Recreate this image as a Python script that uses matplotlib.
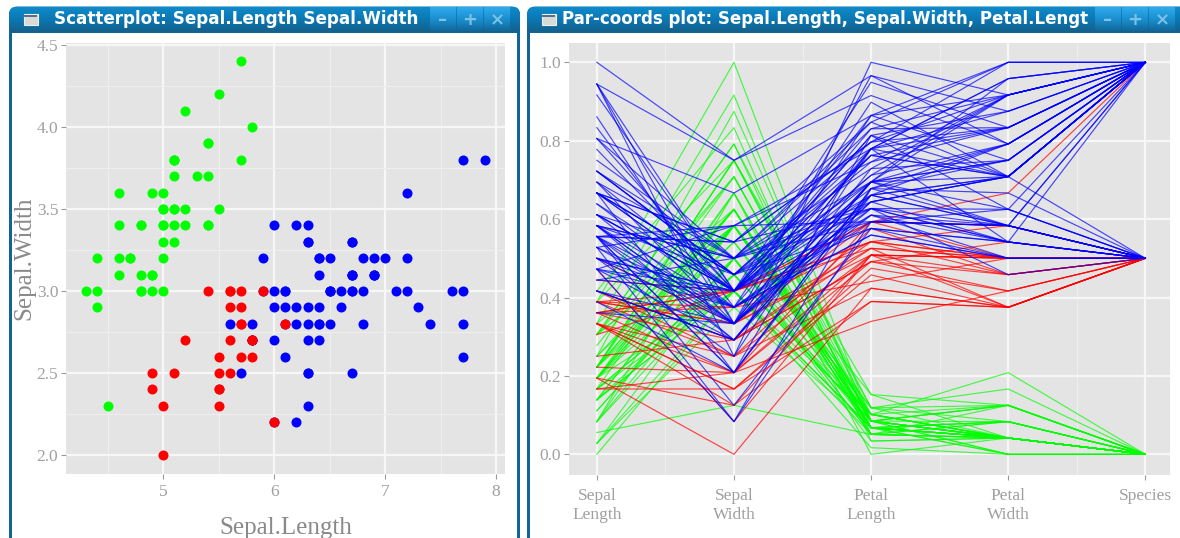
import numpy as np
import matplotlib
matplotlib.use("Agg")
import matplotlib.pyplot as plt
from matplotlib.patches import FancyBboxPatch, Rectangle

sepal_length = [5.1,4.9,4.7,4.6,5.0,5.4,4.6,5.0,4.4,4.9,5.4,4.8,4.8,4.3,5.8,5.7,5.4,5.1,5.7,5.1,5.4,5.1,4.6,5.1,4.8,5.0,5.0,5.2,5.2,4.7,4.8,5.4,5.2,5.5,4.9,5.0,5.5,4.9,4.4,5.1,5.0,4.5,4.4,5.0,5.1,4.8,5.1,4.6,5.3,5.0,
                7.0,6.4,6.9,5.5,6.5,5.7,6.3,4.9,6.6,5.2,5.0,5.9,6.0,6.1,5.6,6.7,5.6,5.8,6.2,5.6,5.9,6.1,6.3,6.1,6.4,6.6,6.8,6.7,6.0,5.7,5.5,5.5,5.8,6.0,5.4,6.0,6.7,6.3,5.6,5.5,5.5,6.1,5.8,5.0,5.6,5.7,5.7,6.2,5.1,5.7,
                6.3,5.8,7.1,6.3,6.5,7.6,4.9,7.3,6.7,7.2,6.5,6.4,6.8,5.7,5.8,6.4,6.5,7.7,7.7,6.0,6.9,5.6,7.7,6.3,6.7,7.2,6.2,6.1,6.4,7.2,7.4,7.9,6.4,6.3,6.1,7.7,6.3,6.4,6.0,6.9,6.7,6.9,5.8,6.8,6.7,6.7,6.3,6.5,6.2,5.9]
sepal_width = [3.5,3.0,3.2,3.1,3.6,3.9,3.4,3.4,2.9,3.1,3.7,3.4,3.0,3.0,4.0,4.4,3.9,3.5,3.8,3.8,3.4,3.7,3.6,3.3,3.4,3.0,3.4,3.5,3.4,3.2,3.1,3.4,4.1,4.2,3.1,3.2,3.5,3.6,3.0,3.4,3.5,2.3,3.2,3.5,3.8,3.0,3.8,3.2,3.7,3.3,
               3.2,3.2,3.1,2.3,2.8,2.8,3.3,2.4,2.9,2.7,2.0,3.0,2.2,2.9,2.9,3.1,3.0,2.7,2.2,2.5,3.2,2.8,2.5,2.8,2.9,3.0,2.8,3.0,2.9,2.6,2.4,2.4,2.7,2.7,3.0,3.4,3.1,2.3,3.0,2.5,2.6,3.0,2.6,2.3,2.7,3.0,2.9,2.9,2.5,2.8,
               3.3,2.7,3.0,2.9,3.0,3.0,2.5,2.9,2.5,3.6,3.2,2.7,3.0,2.5,2.8,3.2,3.0,3.8,2.6,2.2,3.2,2.8,2.8,2.7,3.3,3.2,2.8,3.0,2.8,3.0,2.8,3.8,2.8,2.8,2.6,3.0,3.4,3.1,3.0,3.1,3.1,3.1,2.7,3.2,3.3,3.0,2.5,3.0,3.4,3.0]
petal_length = [1.4,1.4,1.3,1.5,1.4,1.7,1.4,1.5,1.4,1.5,1.5,1.6,1.4,1.1,1.2,1.5,1.3,1.4,1.7,1.5,1.7,1.5,1.0,1.7,1.9,1.6,1.6,1.5,1.4,1.6,1.6,1.5,1.5,1.4,1.5,1.2,1.3,1.4,1.3,1.5,1.3,1.3,1.3,1.6,1.9,1.4,1.6,1.4,1.5,1.4,
                4.7,4.5,4.9,4.0,4.6,4.5,4.7,3.3,4.6,3.9,3.5,4.2,4.0,4.7,3.6,4.4,4.5,4.1,4.5,3.9,4.8,4.0,4.9,4.7,4.3,4.4,4.8,5.0,4.5,3.5,3.8,3.7,3.9,5.1,4.5,4.5,4.7,4.4,4.1,4.0,4.4,4.6,4.0,3.3,4.2,4.2,4.2,4.3,3.0,4.1,
                6.0,5.1,5.9,5.6,5.8,6.6,4.5,6.3,5.8,6.1,5.1,5.3,5.5,5.0,5.1,5.3,5.5,6.7,6.9,5.0,5.7,4.9,6.7,4.9,5.7,6.0,4.8,4.9,5.6,5.8,6.1,6.4,5.6,5.1,5.6,6.1,5.6,5.5,4.8,5.4,5.6,5.1,5.1,5.9,5.7,5.2,5.0,5.2,5.4,5.1]
petal_width = [0.2,0.2,0.2,0.2,0.2,0.4,0.3,0.2,0.2,0.1,0.2,0.2,0.1,0.1,0.2,0.4,0.4,0.3,0.3,0.3,0.2,0.4,0.2,0.5,0.2,0.2,0.4,0.2,0.2,0.2,0.2,0.4,0.1,0.2,0.2,0.2,0.2,0.1,0.2,0.2,0.3,0.3,0.2,0.6,0.4,0.3,0.2,0.2,0.2,0.2,
               1.4,1.5,1.5,1.3,1.5,1.3,1.6,1.0,1.3,1.4,1.0,1.5,1.0,1.4,1.3,1.4,1.5,1.0,1.5,1.1,1.8,1.3,1.5,1.2,1.3,1.4,1.4,1.7,1.5,1.0,1.1,1.0,1.2,1.6,1.5,1.6,1.5,1.3,1.3,1.3,1.2,1.4,1.2,1.0,1.3,1.2,1.3,1.3,1.1,1.3,
               2.5,1.9,2.1,1.8,2.2,2.1,1.7,1.8,1.8,2.5,2.0,1.9,2.1,2.0,2.4,2.3,1.8,2.2,2.3,1.5,2.3,2.0,2.0,1.8,2.1,1.8,1.8,1.8,2.1,1.6,1.9,2.0,2.2,1.5,1.4,2.3,2.4,1.8,1.8,2.1,2.4,2.3,1.9,2.3,2.5,2.3,1.9,2.0,2.3,1.8]
species = [0]*50 + [1]*50 + [2]*50
# colour group per flower: 0 green, 1 red, 2 blue
group = [0]*50 + [2,2,2,1,2,1,2,1,2,1,1,1,1,2,1,2,1,1,2,1,2,1,2,2,2,2,2,2,2,1,1,1,1,2,1,2,2,2,1,1,1,2,1,1,1,1,1,2,1,1] \
        + [2,2,2,2,2,2,1,2,2,2,2,2,2,2,2,2,2,2,2,2,2,2,2,2,2,2,2,2,2,2,2,2,2,2,2,2,2,2,2,2,2,2,2,2,2,2,2,2,2,2]
axis_names = ["Sepal\nLength", "Sepal\nWidth", "Petal\nLength", "Petal\nWidth", "Species"]
group_colors = {0: "#00ff00", 1: "#ff0000", 2: "#0000ff"}

GREY = "#a0a0a0"
SERIF = ["Liberation Serif", "DejaVu Serif"]
W, H = 1180, 538
fig = plt.figure(figsize=(W/100, H/100), dpi=100, facecolor="white")

def px_axes(l, t, r, b):
    return fig.add_axes([l/W, 1-b/H, (r-l)/W, (b-t)/H])

# window chrome
bg = fig.add_axes([0, 0, 1, 1], zorder=-1)
bg.set_xlim(0, W); bg.set_ylim(H, 0); bg.axis("off")
BORDER = "#0f6595"
grad = np.linspace(0, 1, 26)[:, None]
cmap = matplotlib.colors.LinearSegmentedColormap.from_list("t", ["#0f8ccb", "#0b78b4", "#14618c"])
btncmap = matplotlib.colors.LinearSegmentedColormap.from_list("b", ["#2eaaec", "#1b8fd0", "#11689a"])

def window(l, r, title, tx, size, bl):
    frame = FancyBboxPatch((l+8, 14.7), r-l-16, H+40, boxstyle="round,pad=8", fc=BORDER, ec="none")
    bg.add_patch(frame)
    im = bg.imshow(grad, extent=[l, r, 32.5, 6.5], cmap=cmap, aspect="auto", zorder=2)
    im.set_clip_path(frame)
    bg.add_patch(Rectangle((l+3, 32.5), r-l-6, H, fc="white", ec="none", zorder=3))
    bg.add_patch(Rectangle((l+14.5, 14), 14, 11, fc="#d8dad6", ec="#eef0ee", lw=0.8, zorder=4))
    bg.add_patch(Rectangle((l+15, 14.5), 13, 2, fc="#54708c", ec="none", zorder=4))
    bg.text(tx, 19.5, title, color="white", fontsize=size, fontweight="bold",
            family="DejaVu Sans", va="center", ha="left", zorder=5)
    for i, g in enumerate(["\u2013", "+", "\u00d7"]):
        x0 = bl + i*27
        bg.imshow(grad, extent=[x0, x0+26, 31.5, 7.5], cmap=btncmap, aspect="auto", zorder=4)
        bg.text(x0+13, 20, g, color="#7cc2e4", fontsize=13, fontweight="bold",
                ha="center", va="center", zorder=5)
    bg.set_xlim(0, W); bg.set_ylim(H, 0)

window(9, 520, "Scatterplot: Sepal.Length Sepal.Width", 54, 12.1, 430)
window(527, 1195, "Par-coords plot: Sepal.Length, Sepal.Width, Petal.Lengt", 562, 12, 1095)

def style(ax):
    ax.set_facecolor("#e4e4e4")
    for s in ax.spines.values():
        s.set_visible(False)
    ax.set_axisbelow(True)
    ax.grid(True, which="major", color="#f7f7f7", lw=1.6)
    ax.tick_params(which="major", length=3.5, width=0.8, color="#9a9a9a", labelcolor=GREY,
                   labelsize=12.5, pad=2)
    ax.tick_params(which="minor", length=0)
    for lab in ax.get_xticklabels() + ax.get_yticklabels():
        lab.set_family(SERIF)

# scatter
sl, sw, pl, pw = map(np.array, (sepal_length, sepal_width, petal_length, petal_width))
grp = np.array(group)
ax = px_axes(66, 43.3, 505, 474)
ax.set_xlim(4.123, 8.08); ax.set_ylim(1.884, 4.51)
ax.set_xticks([5, 6, 7, 8]); ax.set_yticks([2.0, 2.5, 3.0, 3.5, 4.0, 4.5])
ax.set_xticks([4.5, 5.5, 6.5, 7.5], minor=True); ax.set_yticks([2.25, 2.75, 3.25, 3.75, 4.25], minor=True)
ax.grid(True, which="minor", color="#eeeeee", lw=0.8)
for g in (2, 0, 1):
    m = grp == g
    ax.scatter(sl[m], sw[m], s=52, color=group_colors[g], linewidths=0, zorder=3)
style(ax)
ax.tick_params(axis="x", pad=4)
ax.set_xlabel("Sepal.Length", family=SERIF, color="#8a8a8a", fontsize=18, labelpad=12)
ax.set_ylabel("Sepal.Width", family=SERIF, color="#8a8a8a", fontsize=18, labelpad=1)

# parallel coordinates
def scaled(v):
    v = np.asarray(v, float)
    return (v - v.min()) / (v.max() - v.min())
table = np.column_stack([scaled(sl), scaled(sw), scaled(pl), scaled(pw), scaled(species)])
ax2 = px_axes(569, 42.7, 1170, 474.7)
ax2.set_xlim(-0.203, 4.18); ax2.set_ylim(-0.052, 1.05)
ax2.set_xticks(range(5)); ax2.set_xticklabels(axis_names)
ax2.set_yticks([0, 0.2, 0.4, 0.6, 0.8, 1.0])
ax2.set_xticks([0.5, 1.5, 2.5, 3.5], minor=True)
ax2.grid(True, which="minor", axis="x", color="#eeeeee", lw=0.8)
for g in (0, 1, 2):
    for row in table[grp == g]:
        ax2.plot(range(5), row, color=group_colors[g], lw=0.85, alpha=0.7, zorder=3)
style(ax2)
ax2.tick_params(axis="x", pad=6)
for lab in ax2.get_xticklabels():
    lab.set_linespacing(1.3)

fig.savefig("out.png", dpi=100)
